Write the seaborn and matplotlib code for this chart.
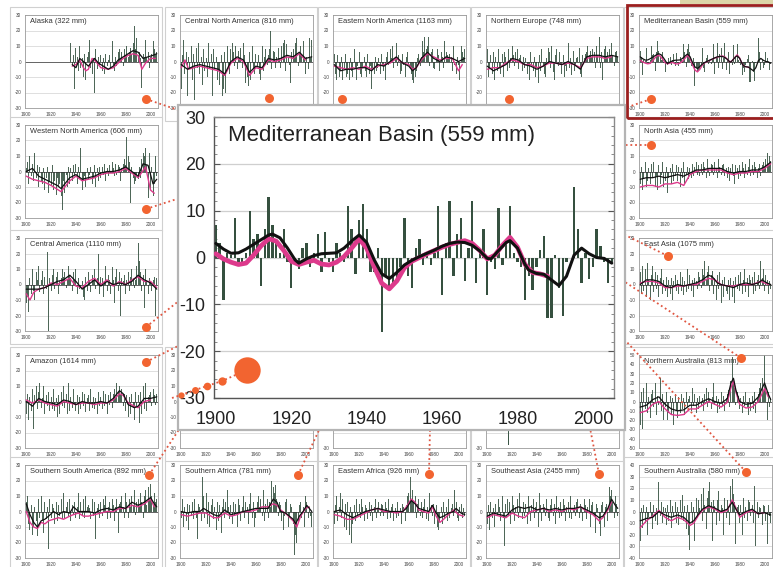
import numpy as np
import pandas as pd
import matplotlib
matplotlib.use("Agg")
import matplotlib.pyplot as plt
import seaborn as sns
from matplotlib.patches import Rectangle
from matplotlib.ticker import MultipleLocator

sns.set_theme(style="white")
plt.rcParams['font.family'] = ['Liberation Sans', 'DejaVu Sans']
plt.rcParams['axes.unicode_minus'] = False

# ----------------------------------------------------------------- data
DECADE_TICKS = [1900, 1920, 1940, 1960, 1980, 2000]

# Mediterranean Basin (main inset + small panel), annual anomalies 1900-2005
MED_BARS = [7, 3, -9, 1, 0.5, 8.5, -1, -1.5, 1, 10,
            4, 5, -6, 6, 13, 7, 3, 1, 6, -1,
            -6.5, -1, -2.5, 2, 3, -2, 1, 5, -3, 5.5,
            -1, -3, 3, 1, -1, 11, 6, -3.5, 8, 11.5,
            6, -3, -3, 2, -16, -4, -6, -6, -5, -2,
            8.5, -4, -6.5, 2, 4, -1.5, 1, -1.5, 1, 11,
            -8, 3, 12, -4, 5, 8.5, -5, 2, 12, -5.5,
            1, 6, -8, -1, -2.5, 10.5, -1.5, 3, 11, 1,
            -1, -2, -9, -4, -7, -2, 1.5, 4.5, -13, -13,
            0.5, -6.5, -12.5, -1, 0, 15, 6, -5.5, 1, -4.5,
            -2, 6, 2.5, -1, -5.5, -1]
MED_BLACK = [(1900, 3.0), (1902, 1.8), (1904, 0.9), (1906, 1.0), (1908, 1.8), (1910, 2.8),
             (1912, 3.8), (1914, 4.8), (1915, 5.0), (1917, 4.2), (1919, 2.0), (1921, -0.5),
             (1922, -1.2), (1924, -0.3), (1926, 0.4), (1928, 0.8), (1930, 0.9), (1932, 1.0),
             (1934, 2.0), (1936, 3.5), (1938, 4.8), (1940, 3.2), (1942, -0.5), (1944, -3.5),
             (1946, -4.5), (1948, -3.2), (1950, -1.6), (1952, -0.6), (1954, 0.2), (1956, 0.9),
             (1958, 1.6), (1960, 2.4), (1962, 3.0), (1964, 3.3), (1966, 3.2), (1968, 2.6),
             (1970, 1.4), (1972, -0.2), (1973, -0.3), (1975, 1.5), (1977, 3.2), (1978, 3.6),
             (1980, 2.0), (1982, -1.5), (1983, -2.7), (1985, -3.4), (1987, -3.6), (1989, -4.8),
             (1991, -6.0), (1993, -4.0), (1995, 0.5), (1997, 2.0), (1999, 0.8), (2001, 0.0),
             (2003, -0.2), (2005, -1.2)]
MED_PINK = [(1900, 0.8), (1902, -0.3), (1904, -1.0), (1906, -1.5), (1908, -1.2), (1910, 0.5),
            (1912, 2.5), (1914, 4.0), (1916, 3.5), (1918, 1.5), (1920, -0.8), (1922, -1.5),
            (1924, -1.0), (1926, -0.6), (1928, -1.4), (1930, -1.6), (1932, -1.0), (1934, 0.2),
            (1936, 2.0), (1938, 4.0), (1940, 2.0), (1942, -2.0), (1944, -5.5), (1946, -6.7),
            (1948, -5.0), (1950, -2.2), (1952, -0.8), (1954, 0.0), (1956, 0.8), (1958, 1.5),
            (1960, 2.2), (1962, 2.8), (1964, 3.2), (1966, 3.6), (1968, 3.0), (1970, 1.5),
            (1972, -0.3), (1974, 0.5), (1976, 2.6), (1978, 4.3), (1980, 2.2), (1982, -1.5),
            (1984, -3.2), (1986, -3.5), (1988, -4.0)]

ALASKA_START = 1936
ALASKA_BARS = [12, -3, 4, -18, 9, 3, -6, 10, -4, 2,
               -10, 5, -12, 3, 6, 14, -4, -8, 2, -20,
               8, -5, 3, -2, 4, -6, 2, -8, 5, -3,
               1, 4, -4, 13, -2, -6, 3, -3, 6, 8,
               2, 6, -3, 8, 4, 10, 3, 6, 9, 5,
               12, 23, 8, 15, 4, 6, 2, -17, 5, 3,
               14, 2, 6, -4, 3, 5, 13, 8, 4, 6]
ALASKA_BLACK = [(1937, -2), (1940, -4), (1943, 2), (1946, 0), (1950, -3), (1955, 2), (1958, -1),
                (1962, -3), (1966, -5), (1970, -3), (1974, 1), (1978, 3), (1982, 5), (1986, 7),
                (1990, 6), (1994, 2), (1998, 3), (2002, 4), (2005, 5)]
ALASKA_PINK = [(1937, -3), (1940, -2), (1943, 1), (1946, -4), (1948, -6), (1950, -5), (1953, 2),
               (1956, 0), (1960, -4), (1966, -5), (1970, -4), (1974, -1), (1978, 2), (1982, 4),
               (1986, 5), (1990, 4), (1993, -5), (1996, -1), (2000, 2), (2004, 2)]

CNA_BARS = [-18, 4, 14, -8, 6, -22, 3, -5, 10, -12,
            5, -25, 9, -4, 12, -8, 3, -15, 8, -6,
            2, -10, 12, -4, 5, -22, 8, -5, 3, -12,
            -6, -15, 4, -22, -18, 6, -20, 10, -5, -8,
            8, 12, 6, -3, 10, -5, 7, 2, 9, -4,
            12, 4, -14, -10, -16, 6, -12, 10, -4, -8,
            5, -3, 4, -8, -12, 10, -6, 3, 8, -2,
            4, 8, 20, -5, 7, 6, -4, 3, 9, 2,
            -4, 10, 12, 14, -6, 11, 3, -2, -14, 6,
            8, 3, 12, 15, -3, 6, 10, 4, 13, 2,
            -8, 3, -5, 15, 2, 14]
CNA_BLACK = [(1900, -2), (1905, -5), (1910, -3), (1915, -2), (1920, -3), (1925, -4), (1930, -5),
             (1935, -8), (1940, 0), (1945, 3), (1950, 1), (1955, -7), (1960, -3), (1965, -4),
             (1970, 2), (1975, 1), (1980, 2), (1985, 4), (1990, 3), (1995, 6), (2000, 2), (2005, 3)]
CNA_PINK = [(1900, -4), (1903, 1), (1906, -5), (1910, -4), (1915, -3), (1920, -4), (1925, -5),
            (1930, -6), (1935, -9), (1940, -1), (1945, 2), (1950, 0), (1955, -9), (1960, -4),
            (1965, -5), (1970, 1), (1975, 0), (1980, 1), (1985, 3), (1990, 2), (1995, 5), (2000, 1)]

ENA_BARS = [5, -8, -12, 4, -10, -6, 3, -12, -4, 5,
            -10, -8, -12, 2, -6, -10, 8, -4, -12, -3,
            6, -8, -10, -4, 3, -6, -10, 5, -8, -3,
            -18, -5, -8, 3, -6, -4, 2, -8, 5, -3,
            -6, -12, 3, 6, -2, 8, 2, 10, -4, 3,
            12, -3, 4, -8, -6, 5, -2, -10, 3, 6,
            -2, -4, -8, -12, -14, -10, -6, 2, 5, -3,
            3, 13, 6, 16, 8, 10, 16, -3, 6, 8,
            -4, -5, 2, 8, 4, -6, 6, 3, -4, 13,
            6, 4, 2, 5, 3, -6, 10, -2, -8, 3,
            -2, -12, 10, 6, 3, 8]
ENA_BLACK = [(1900, -2), (1905, -6), (1910, -5), (1915, -5), (1920, -4), (1925, -4), (1930, -6),
             (1935, -2), (1940, -3), (1945, 0), (1950, 3), (1955, -1), (1960, -3), (1963, -6),
             (1966, -4), (1970, 2), (1975, 6), (1980, 2), (1985, 0), (1990, 3), (1995, 2),
             (2000, 0), (2005, 2)]
ENA_PINK = [(1900, -3), (1905, -4), (1910, -5), (1915, -4), (1920, -5), (1925, -3), (1930, -5),
            (1935, -3), (1940, -2), (1945, -1), (1950, 2), (1955, -1), (1960, -2), (1963, -5),
            (1966, -4), (1970, 1), (1975, 5), (1980, 3), (1985, 1), (1990, 2), (1995, 2),
            (2000, -6), (2003, -2)]

NEU_BARS = [8, -10, -5, 4, -8, 6, -12, 3, -6, 8,
            -4, -8, 5, -10, 6, 3, -6, 8, -4, 2,
            10, 4, -3, 6, 8, -5, 2, 4, -6, 3,
            -4, 2, -8, -3, -12, 6, -2, -6, 3, -10,
            -4, -14, 4, -6, 8, -3, -8, -10, 2, 9,
            6, -4, 10, -7, -12, 4, 8, -3, 6, -2,
            -8, 4, -10, -3, -6, 12, -4, 2, -9, 7,
            -6, -3, 2, 3, 9, -8, -10, 4, 2, 5,
            6, 10, 4, 7, 3, 8, 6, -4, 10, 4,
            16, -4, 6, -12, 8, 10, 3, 6, 8, 4,
            12, 4, -3, 6, 7, 3]
NEU_BLACK = [(1900, -3), (1905, -6), (1910, -4), (1915, -2), (1920, 2), (1925, 1), (1930, -2),
             (1935, -3), (1940, -5), (1945, -3), (1950, 0), (1955, -1), (1960, -2), (1965, 0),
             (1970, -2), (1975, -5), (1980, 3), (1985, 4), (1990, 4), (1995, 3), (2000, 4),
             (2005, 3)]
NEU_PINK = [(1900, -5), (1905, -4), (1910, -4), (1915, -1), (1920, 1), (1925, 0), (1930, -2),
            (1935, -2), (1940, -4), (1945, -3), (1950, -1), (1955, -1), (1960, -2), (1965, -1),
            (1970, -2), (1975, -4), (1980, 2), (1985, 3), (1990, 3), (1995, 2), (2000, 3)]

WNA_BARS = [2, 6, -8, 10, -3, 5, -6, 12, -4, 4,
            -10, 3, -6, -8, 2, -12, -4, 3, -14, -6,
            -9, 4, -12, -6, -15, -4, -10, -8, -16, -25,
            -6, -14, -2, -10, 3, -8, 2, -6, 4, -3,
            5, -8, 3, -4, 15, -12, -6, -3, -10, 2,
            -5, -2, 3, -8, -4, 4, -10, 2, -6, 3,
            -4, 3, -2, 5, -6, 2, -3, 4, -1, 6,
            2, -3, 5, -2, 4, 3, -6, 2, 5, 8,
            4, 22, 10, 6, -20, 3, -4, -8, -6, -2,
            -5, 3, -4, 8, 12, 10, 15, 4, -17, 12,
            -12, 3, -16, -8, 10, -3]
WNA_BLACK = [(1900, 0), (1905, 2), (1910, -3), (1915, -5), (1920, -7), (1925, -9), (1928, -11),
             (1932, -7), (1935, -4), (1940, -2), (1945, -5), (1950, -4), (1955, -3), (1960, -1),
             (1965, 0), (1970, 0), (1975, 1), (1980, 3), (1985, 0), (1990, -3), (1994, 5),
             (1998, 4), (2002, -8), (2005, -5)]
WNA_PINK = [(1900, -3), (1905, -5), (1910, -6), (1915, -7), (1920, -9), (1928, -13), (1932, -9),
            (1935, -6), (1940, -3), (1945, -6), (1950, -5), (1955, -4), (1960, -2), (1965, -1),
            (1970, -1), (1975, 0), (1980, 2), (1985, -1), (1990, -4), (1996, 3), (2000, -12),
            (2003, -14)]

CAM_BARS = [-12, -8, -18, 4, -6, 10, -4, -10, 8, 3,
            12, -5, 3, 9, -6, 5, -3, 21, -30, 4,
            -4, 6, 10, -3, 5, 8, -6, 2, 4, 10,
            5, 8, -2, 3, 12, 6, 4, -4, 8, 3,
            10, -6, 4, -3, -2, 2, -8, -10, 5, -4,
            8, 3, -5, 6, 2, 10, -3, 4, 20, -6,
            5, 4, -8, 2, 12, -4, 6, 3, -6, 11,
            3, -12, 5, 10, -4, 8, -20, 4, 2, 6,
            -6, 3, 8, -4, 5, 10, 4, -2, 3, 12,
            27, 15, 8, -4, 6, -15, 10, 3, -6, 4,
            2, -4, 3, 5, -20, 4]
CAM_BLACK = [(1900, -3), (1905, -3), (1910, -3), (1915, -2), (1920, 0), (1925, 2), (1930, 3),
             (1935, 6), (1940, 2), (1945, -3), (1950, 0), (1955, 3), (1960, -1), (1965, 2),
             (1970, 0), (1975, 1), (1980, 0), (1985, 2), (1990, 6), (1995, 3), (2000, 1),
             (2005, -3)]
CAM_PINK = [(1900, -6), (1903, -10), (1906, -5), (1910, -3), (1915, -2), (1920, 1), (1925, 0),
            (1930, 2), (1935, 4), (1940, -1), (1945, -2), (1950, 2), (1955, 4), (1960, 0),
            (1965, 3), (1970, -1), (1975, 2), (1980, 0), (1985, 3), (1990, 5), (1995, 2),
            (2000, 2), (2005, -2)]

AMZ_BARS = [-8, 5, -12, 3, -6, 8, -18, 4, 10, -5,
            6, 12, -4, 2, 10, -8, 4, -3, 6, -6,
            3, -5, 8, -6, 2, -10, 4, -8, 6, -3,
            10, -4, 5, -8, 12, -6, 3, -4, 8, -2,
            -6, 4, -8, 3, -5, 6, -3, 5, -7, 2,
            4, -6, 8, -4, 3, -5, 2, -8, 6, -3,
            3, -5, 7, -3, 5, -8, 4, -2, 6, -4,
            5, 8, 3, 12, 6, 10, 4, 8, -3, 5,
            -6, 4, -10, 3, -8, 5, -4, -12, 6, -3,
            4, -14, 6, -8, 10, -5, 12, -6, 3, 4,
            6, -3, 8, 4, -2, 5]
AMZ_BLACK = [(1900, 0), (1905, -3), (1910, 2), (1915, 0), (1920, -1), (1925, -2), (1930, 1),
             (1935, 0), (1940, -2), (1945, 0), (1950, -1), (1955, -1), (1960, 0), (1965, -1),
             (1970, 2), (1975, 7), (1978, 5), (1982, -2), (1987, -4), (1990, -3), (1995, 2),
             (2000, 2), (2005, 3)]
AMZ_PINK = [(1900, 1), (1905, -1), (1910, 1), (1915, -1), (1920, -2), (1925, -3), (1930, 0),
            (1935, -1), (1940, -2), (1945, -1), (1950, -1), (1955, -2), (1960, -1), (1965, -1),
            (1970, 1), (1975, 5), (1978, 4), (1982, -1), (1987, -3), (1990, -4), (1995, 0),
            (2000, 1)]

NAS_BARS = [-8, 3, -12, -4, 6, -10, -6, 2, -8, 5,
            -4, 6, -10, -3, -12, 4, -8, -2, 6, -10,
            -6, 3, -14, -4, 2, -8, 5, -6, -3, 4,
            -6, 3, -10, 2, -4, 6, -8, -2, 3, -5,
            2, -4, 5, -3, 3, 6, -2, 4, -3, 5,
            -2, 6, 3, -4, 8, 2, -3, 5, 4, -2,
            6, 2, -4, 8, 3, -2, 4, 5, -3, 2,
            -4, 3, -6, 2, 5, -3, -8, 4, 2, -5,
            4, -3, 6, 2, -4, 5, -2, 3, 8, -3,
            4, -2, 6, 3, -4, 2, 5, -3, 4, 6,
            3, 8, 12, 5, 10, 7]
NAS_BLACK = [(1900, -5), (1905, -4), (1910, -4), (1915, -3), (1920, -4), (1925, -3), (1930, -2),
             (1935, -3), (1940, -1), (1945, 1), (1950, 1), (1955, 2), (1960, 2), (1965, 2),
             (1970, 0), (1975, -1), (1980, 0), (1985, 0), (1990, 1), (1995, 1), (2000, 3),
             (2005, 6)]
NAS_PINK = [(1900, -10), (1905, -9), (1910, -9), (1915, -10), (1920, -8), (1925, -8), (1930, -7),
            (1935, -9), (1940, -2), (1945, 0), (1950, 1), (1955, 1), (1960, 1), (1965, 1),
            (1970, -1), (1975, -2), (1980, -1), (1985, -1), (1990, 0), (1995, 0), (2000, 2),
            (2005, 5)]

EAS_BARS = [8, -6, 12, -4, 10, -8, 14, 3, -10, 6,
            12, -5, 8, -3, 6, -8, 4, 10, -6, 3,
            -4, 5, -8, 3, -6, 4, -10, 2, 6, -4,
            3, -6, 8, -4, 5, -7, 2, -5, 10, -3,
            6, -4, 3, -8, 4, 2, -3, 8, 5, -2,
            10, 6, 15, 3, 8, 12, -4, 6, 9, -6,
            4, -10, 6, -3, 8, -12, 3, -8, 5, -4,
            -6, 3, -10, 4, -8, 2, -12, 5, -3, 6,
            -4, 8, -6, 3, 10, -5, 4, -8, 6, 3,
            5, -6, 8, -4, 3, 6, -3, 15, 4, 10,
            -4, 6, 3, -6, 2, -3]
EAS_BLACK = [(1900, 0), (1905, 3), (1910, 3), (1915, 2), (1920, -1), (1925, -2), (1930, 0),
             (1935, -1), (1940, 0), (1945, 1), (1950, 3), (1955, 6), (1958, 5), (1962, 1),
             (1965, 0), (1970, -1), (1975, -2), (1980, 0), (1985, 1), (1990, 0), (1995, 1),
             (1998, 3), (2002, 1), (2005, 0)]
EAS_PINK = [(1900, 1), (1905, 2), (1910, 2), (1915, 1), (1920, -2), (1925, -2), (1930, -1),
            (1935, -1), (1940, 0), (1945, 0), (1950, 2), (1955, 4), (1960, 3), (1965, 0),
            (1970, -1), (1975, -1), (1980, 0), (1985, 0), (1990, 0), (1997, 2), (2003, 0)]

NAU_BARS = [-25, 10, -30, 15, -8, 20, -12, 5, -18, 8,
            12, -6, 20, -15, 6, -4, 25, -10, 8, -20,
            -6, 10, -20, -12, 6, -15, 4, -25, 8, -10,
            -18, 5, -12, 8, -8, 4, -15, 10, -6, 3,
            6, -10, 15, -5, 8, -12, 4, -8, 6, -4,
            4, -10, 8, 15, -6, 10, 3, -8, 5, 20,
            -4, 6, -12, 3, -8, 10, -5, 6, -10, 4,
            8, 12, -6, 22, 48, 20, 15, -4, 10, 6,
            -8, 4, -12, 6, -5, 10, -6, -14, 4, -10,
            6, -8, 10, -12, 4, 8, 15, 20, 25, 12,
            50, 18, -20, 10, -6, 4]
NAU_BLACK = [(1900, -6), (1905, -4), (1910, 2), (1915, 5), (1920, -3), (1925, -8), (1930, -10),
             (1935, -9), (1940, -4), (1945, -4), (1950, 0), (1955, 3), (1960, 0), (1965, -2),
             (1970, 3), (1973, 20), (1975, 25), (1977, 12), (1980, 0), (1985, -3), (1990, -2),
             (1995, 5), (2000, 20), (2003, 8), (2005, 2)]
NAU_PINK = [(1900, -12), (1905, -10), (1910, -3), (1915, 0), (1920, -8), (1925, -14), (1930, -15),
            (1935, -14), (1940, -8), (1945, -8), (1950, -4), (1955, 0), (1960, -3), (1965, -6),
            (1970, -1), (1973, 15), (1975, 22), (1977, 10), (1980, -3), (1985, -7), (1990, -6),
            (1995, 0), (2000, 14), (2003, 5)]

SSA_BARS = [6, 10, -8, -12, 4, -15, -10, 3, -6, -16,
            8, -4, 10, -6, -14, 6, -5, 3, -24, 8,
            -4, 5, 2, -8, 6, -6, 4, -3, 8, -5,
            12, -4, 3, 6, -3, 8, -6, 4, -2, 6,
            -4, 3, 12, -5, 6, -3, 8, -4, 10, 3,
            4, 2, -5, 8, -3, 6, -18, 2, 5, -4,
            6, -3, 8, 4, 10, -5, 3, 6, -4, 8,
            4, -6, 3, 8, -14, 5, 6, 10, 3, -4,
            12, 6, -4, 8, 3, 10, 4, 14, -2, 6,
            8, 3, 12, 6, -4, 10, 14, 4, 16, 8,
            18, 10, 4, 12, 6, 8]
SSA_BLACK = [(1900, 5), (1903, -2), (1906, -7), (1909, -10), (1912, -6), (1915, -5), (1918, -3),
             (1922, 0), (1926, -2), (1930, 0), (1935, -1), (1938, 3), (1942, 0), (1946, 0),
             (1950, 0), (1955, -1), (1960, 1), (1965, 2), (1970, 1), (1975, 3), (1980, 2),
             (1985, 6), (1990, 4), (1995, 6), (2000, 9), (2003, 5), (2005, 3)]
SSA_PINK = [(1900, 0), (1903, -7), (1906, -10), (1909, -11), (1912, -7), (1915, -8), (1918, -6),
            (1922, -5), (1926, -4), (1930, -5), (1935, -3), (1938, -2), (1942, -1), (1946, -3),
            (1950, -3), (1955, -2), (1960, -1), (1965, 0), (1970, 0), (1975, 2), (1980, 2),
            (1985, 4), (1990, 3), (1995, 5), (2000, 8), (2003, 3)]

SAF_BARS = [-4, 8, -10, 3, -6, 5, -12, 4, -3, 6,
            -5, 8, -4, -18, 5, 3, -6, 22, 10, -4,
            12, -8, 6, -10, 4, 8, -5, 3, -12, 6,
            -6, 4, -14, 3, 8, -4, 6, 14, 3, -5,
            4, -8, 6, -3, 5, -10, 8, 4, -6, 3,
            10, -4, 6, 3, -8, 5, 12, -4, 6, -10,
            -4, 6, 10, 3, 8, -3, 14, -6, 5, 8,
            -4, 6, 3, 20, 16, 12, 17, 8, -3, 6,
            4, -6, -12, -3, 6, 8, -10, -4, 5, 3,
            -8, -28, -15, -20, -6, 4, 6, -4, 3, -10,
            10, 6, -4, 3, -3, -10]
SAF_BLACK = [(1900, 0), (1905, -1), (1910, 0), (1915, 0), (1918, 2), (1922, 0), (1926, -2),
             (1930, -3), (1935, 1), (1940, -2), (1945, -1), (1950, 0), (1955, 1), (1960, 2),
             (1965, 2), (1970, 2), (1974, 8), (1977, 6), (1980, 0), (1984, -1), (1987, -3),
             (1990, -5), (1992, -8), (1995, -3), (1998, 0), (2001, 4), (2005, 0)]
SAF_PINK = [(1900, -2), (1905, -3), (1910, -2), (1915, -1), (1920, -1), (1926, -4), (1930, -4),
            (1935, -1), (1940, -3), (1945, -2), (1950, 0), (1955, 0), (1960, 1), (1965, 3),
            (1970, 3), (1974, 5), (1977, 4), (1980, 1), (1985, -2), (1990, -6), (1993, -10),
            (1996, -3), (2000, 2), (2003, 3)]

EAF_BARS = [-8, 4, 10, -6, 3, 12, -4, 8, -10, 5,
            -12, 6, -15, 3, -20, -8, 4, -6, 8, -3,
            5, -4, 8, 3, -6, 4, 2, -5, 6, -3,
            4, -6, 3, 8, -4, 2, 6, -3, 5, 4,
            -3, 6, 2, -5, 8, -4, 3, 5, -6, 2,
            -4, 6, -3, 2, -8, 5, 3, -6, 4, 10,
            12, 22, 8, 14, 6, 10, -4, 5, 8, -3,
            6, -4, 3, 8, -5, 3, -6, 12, 4, -3,
            5, -8, 4, -10, -12, -6, 3, -8, 6, -4,
            3, -6, 8, -4, 2, 5, -3, 14, 6, -4,
            -6, 3, 5, -4, 2, -3]
EAF_BLACK = [(1900, 0), (1905, 1), (1910, -2), (1915, -4), (1920, -2), (1925, 0), (1930, 1),
             (1935, 2), (1940, 1), (1945, 0), (1950, 0), (1955, 0), (1958, 2), (1962, 7),
             (1965, 5), (1968, 2), (1972, 1), (1976, 0), (1979, 4), (1982, -1), (1985, -4),
             (1988, -3), (1992, -1), (1996, 0), (1998, 2), (2002, -1), (2005, -2)]
EAF_PINK = [(1900, -2), (1905, -3), (1910, -5), (1915, -5), (1920, -3), (1925, -1), (1930, 1),
            (1935, 2), (1940, 0), (1945, 0), (1950, -1), (1955, 0), (1958, 3), (1962, 8),
            (1965, 6), (1968, 1), (1972, 0), (1976, -1), (1979, 3), (1982, -3), (1985, -7),
            (1988, -5), (1992, -2), (1996, 1), (2000, -2), (2004, -3)]

SEA_BARS = [-8, 4, -12, 6, -4, 2, -10, 5, -3, 8,
            3, -6, 10, -4, -22, 5, 8, -3, 6, -8,
            10, 4, -6, 3, 8, -4, 12, 2, -5, 6,
            -3, 5, -8, 10, 3, -6, 4, 8, -4, 3,
            6, -10, 12, 4, -6, 5, 3, -3, 8, -4,
            -6, 4, 8, -3, 5, -8, 10, 3, -4, 6,
            -3, 8, 4, -6, 3, 6, -4, 10, -5, 2,
            4, -3, 6, 8, -4, 5, 3, -6, 8, 4,
            -5, 3, 8, -10, 4, 6, -3, -14, 5, 2,
            -8, -16, 4, 6, -10, 3, 5, -6, 16, 10,
            14, 6, -4, 10, 5, -3]
SEA_BLACK = [(1900, -3), (1905, -1), (1910, -2), (1915, -3), (1920, 1), (1925, 3), (1930, 2),
             (1935, 3), (1940, 1), (1945, 2), (1950, 1), (1955, 2), (1960, 1), (1965, 2),
             (1970, 2), (1975, 3), (1980, 1), (1985, -1), (1990, -4), (1993, -3), (1997, 2),
             (2000, 8), (2003, 4), (2005, 2)]
SEA_PINK = [(1900, -4), (1905, -2), (1910, -3), (1915, -4), (1920, -1), (1925, -3), (1930, -4),
            (1935, 0), (1940, 1), (1945, 2), (1950, 0), (1955, 1), (1960, 0), (1965, 2),
            (1970, 1), (1975, 3), (1980, 0), (1985, -2), (1990, -6), (1993, -4), (1997, 1),
            (2000, 6)]

SAU_BARS = [-25, 3, -14, 6, -10, 4, -20, -5, 8, -6,
            -15, 6, -8, 3, -12, 25, -4, 8, -10, 4,
            3, -12, 6, -8, 10, -14, 5, -4, 8, -10,
            4, -12, 10, -6, 14, -8, 5, -15, 6, -20,
            -33, 8, -10, 4, -25, 12, -6, 10, 3, 15,
            -8, 20, 6, -15, 12, 18, 25, 8, -25, 10,
            5, -12, 10, 18, -8, 6, 3, -20, 12, -6,
            10, 5, -12, 22, 28, 15, 8, -28, 4, 6,
            -10, 6, -20, 12, -6, 4, -8, 10, 8, -4,
            6, -10, 22, -30, 8, -6, 4, 3, -12, 6,
            5, -8, -28, 6, -4, -10]
SAU_BLACK = [(1900, -8), (1905, -6), (1910, -5), (1915, 0), (1920, -3), (1925, -5), (1930, -3),
             (1935, -5), (1940, -10), (1943, -8), (1947, -2), (1950, 2), (1955, 5), (1960, 3),
             (1965, 0), (1970, 2), (1974, 8), (1977, 2), (1980, -3), (1985, 0), (1990, 2),
             (1995, -2), (2000, -1), (2005, -3)]
SAU_PINK = [(1900, -14), (1905, -8), (1910, -4), (1915, 1), (1920, -5), (1925, -8), (1930, -5),
            (1935, -7), (1940, -12), (1943, -10), (1947, -3), (1950, 1), (1955, 4), (1960, 2),
            (1965, -1), (1970, 1), (1974, 10), (1977, 3), (1980, -5), (1985, -1), (1990, 1),
            (1995, -2), (2000, -1)]

# panel behind the inset whose bottom strip shows a single long bar
HIDDEN_START = 1915
HIDDEN_BARS = [4, -6, -28, 3]

# (title, first year, bars, black curve, pink curve, y limit, column, row)
PANELS = [
    ("Alaska (322 mm)", ALASKA_START, ALASKA_BARS, ALASKA_BLACK, ALASKA_PINK, 30, 0, 0),
    ("Central North America (816 mm)", 1900, CNA_BARS, CNA_BLACK, CNA_PINK, 30, 1, 0),
    ("Eastern North America (1163 mm)", 1900, ENA_BARS, ENA_BLACK, ENA_PINK, 30, 2, 0),
    ("Northern Europe (748 mm)", 1900, NEU_BARS, NEU_BLACK, NEU_PINK, 30, 3, 0),
    ("Mediterranean Basin (559 mm)", 1900, MED_BARS, MED_BLACK, MED_PINK, 30, 4, 0),
    ("Western North America (606 mm)", 1900, WNA_BARS, WNA_BLACK, WNA_PINK, 30, 0, 1),
    ("North Asia (455 mm)", 1900, NAS_BARS, NAS_BLACK, NAS_PINK, 30, 4, 1),
    ("Central America (1110 mm)", 1900, CAM_BARS, CAM_BLACK, CAM_PINK, 30, 0, 2),
    ("East Asia (1075 mm)", 1900, EAS_BARS, EAS_BLACK, EAS_PINK, 30, 4, 2),
    ("Amazon (1614 mm)", 1900, AMZ_BARS, AMZ_BLACK, AMZ_PINK, 30, 0, 3),
    ("Northern Australia (813 mm)", 1900, NAU_BARS, NAU_BLACK, NAU_PINK, 50, 4, 3),
    ("Southern South America (892 mm)", 1900, SSA_BARS, SSA_BLACK, SSA_PINK, 30, 0, 4),
    ("Southern Africa (781 mm)", 1900, SAF_BARS, SAF_BLACK, SAF_PINK, 30, 1, 4),
    ("Eastern Africa (926 mm)", 1900, EAF_BARS, EAF_BLACK, EAF_PINK, 30, 2, 4),
    ("Southeast Asia (2455 mm)", 1900, SEA_BARS, SEA_BLACK, SEA_PINK, 30, 3, 4),
    ("Southern Australia (580 mm)", 1900, SAU_BARS, SAU_BLACK, SAU_PINK, 40, 4, 4),
]

# ---------------------------------------------------------------- layout
W, H = 773, 567
COL_LEFT = [25, 180, 333, 486, 639]
ROW_TOP = [15, 125, 238, 355, 465]
PW, PH = 133, 93
BAR_C = "#3b5646"
PINK_C = "#dd3a8c"
DOT_C = "#f26430"
LINE_C = "#e05540"


def rect(l, t, w, h):
    return [l / W, 1 - (t + h) / H, w / W, h / H]


def bars_df(start, vals):
    return pd.DataFrame({"year": np.arange(start, start + len(vals)), "value": vals})


def curve_df(pairs):
    return pd.DataFrame(pairs, columns=["year", "value"])


def style_small(ax, ylim, xlabels=True, only_bottom_ylabel=False):
    ax.set_xlim(1899, 2006)
    ax.set_ylim(-ylim, ylim)
    ax.set_xticks(DECADE_TICKS)
    yt = np.arange(-ylim, ylim + 1, 10)
    ax.set_yticks(yt)
    if only_bottom_ylabel:
        ax.set_yticklabels([str(v) if v == -ylim else "" for v in yt])
    if not xlabels:
        ax.set_xticklabels([])
    ax.xaxis.set_minor_locator(MultipleLocator(10))
    ax.yaxis.set_minor_locator(MultipleLocator(5))
    ax.tick_params(axis="both", which="major", labelsize=3.4, length=1.5, width=0.4,
                   pad=1.2, colors="#555", labelcolor="#444", direction="out")
    ax.tick_params(axis="both", which="minor", length=1, width=0.3, colors="#777")
    ax.grid(axis="y", color="#d2d2d2", lw=0.5)
    ax.set_axisbelow(True)
    for s in ax.spines.values():
        s.set_color("#9a9a9a")
        s.set_linewidth(0.6)
    ax.set_xlabel("")
    ax.set_ylabel("")


def panel_box(l, t):
    fig.add_artist(Rectangle(((l - 15) / W, 1 - (t + PH + 13) / H), (PW + 19) / W,
                             (PH + 21) / H, transform=fig.transFigure, facecolor="white",
                             edgecolor="#d0d0d0", lw=0.8, zorder=0.5))


fig = plt.figure(figsize=(W / 100, H / 100), dpi=100, facecolor="white")

# small panels
for title, start, bars, black, pink, ylim, c, r in PANELS:
    l, t = COL_LEFT[c], ROW_TOP[r]
    panel_box(l, t)
    ax = fig.add_axes(rect(l, t, PW, PH), zorder=1)
    sns.barplot(data=bars_df(start, bars), x="year", y="value", native_scale=True,
                color=BAR_C, saturation=1, width=0.8, errorbar=None, linewidth=0,
                ax=ax, zorder=2, alpha=0.9)
    ax.axhline(0, color="#333", lw=0.5, zorder=2.5)
    sns.lineplot(data=curve_df(pink), x="year", y="value", color=PINK_C, lw=1.0,
                 ax=ax, zorder=3)
    sns.lineplot(data=curve_df(black), x="year", y="value", color="#111", lw=0.9,
                 ax=ax, zorder=4)
    hidden_x = (r == 0 and 1 <= c <= 3)
    style_small(ax, ylim, xlabels=not hidden_x)
    ax.text(0.04, 0.93, title, transform=ax.transAxes, fontsize=5.4, color="#333",
            va="center", ha="left", zorder=5)

# panels hidden behind the inset (only their bottom strip shows)
for c in (1, 2, 3):
    l, t = COL_LEFT[c], ROW_TOP[3]
    panel_box(l, t)
    ax = fig.add_axes(rect(l, t, PW, PH), zorder=1)
    if c == 3:
        sns.barplot(data=bars_df(HIDDEN_START, HIDDEN_BARS), x="year", y="value",
                    native_scale=True, color=BAR_C, saturation=1, width=0.8,
                    errorbar=None, linewidth=0, ax=ax, zorder=2)
    style_small(ax, 30, only_bottom_ylabel=(c != 1))

# highlight frame round the Mediterranean panel and top-right strip
fig.add_artist(Rectangle((627 / W, 1 - 118 / H), 150 / W, 113 / H, transform=fig.transFigure,
                         facecolor="none", edgecolor="#9b1f1f", lw=2.0, zorder=4))
fig.add_artist(Rectangle((680 / W, 1 - 4 / H), 93 / W, 4 / H, transform=fig.transFigure,
                         facecolor="#dcd6a8", edgecolor="none", zorder=4))

# overlay for connectors / dots under the inset
low = fig.add_axes([0, 0, 1, 1], zorder=3)
low.set_xlim(0, W)
low.set_ylim(H, 0)
low.axis("off")
low.patch.set_alpha(0)
CONNECTORS = [((146, 99), (178, 110)), ((651, 99), (625, 108)), ((146, 209), (180, 198)),
              ((146, 327), (180, 300)), ((146, 362), (180, 345)), ((651, 145), (625, 145)),
              ((668, 256), (625, 235)), ((741, 358), (625, 282)), ((746, 472), (625, 340)),
              ((149, 475), (180, 428)), ((298, 475), (320, 428)), ((429, 474), (430, 428)),
              ((599, 474), (590, 428))]
for (x0, y0), (x1, y1) in CONNECTORS:
    low.plot([x0, x1], [y0, y1], ls=(0, (1, 1.6)), color=LINE_C, lw=1.3)
DOTS = [(146, 99), (269, 98), (342, 99), (509, 99), (651, 99), (146, 209), (146, 327),
        (146, 362), (651, 145), (668, 256), (741, 358), (149, 475), (298, 475), (429, 474),
        (599, 474), (746, 472)]
for x, y in DOTS:
    low.plot([x], [y], "o", ms=6.5, color=DOT_C, mec="none")

# inset frame
fig.add_artist(Rectangle((178 / W, 1 - 430 / H), 447 / W, 325 / H, transform=fig.transFigure,
                         facecolor="white", edgecolor="#b4b4b4", lw=1.6, zorder=5))

# main inset chart
ax = fig.add_axes(rect(214, 117, 400, 281), zorder=6)
sns.barplot(data=bars_df(1900, MED_BARS), x="year", y="value", native_scale=True,
            color="#35503f", saturation=1, width=0.62, errorbar=None, linewidth=0,
            ax=ax, zorder=2)
sns.lineplot(data=curve_df(MED_PINK), x="year", y="value", color=PINK_C, lw=3.4,
             ax=ax, zorder=3)
sns.lineplot(data=curve_df(MED_BLACK), x="year", y="value", color="#111", lw=2.2,
             ax=ax, zorder=4)
ax.set_xlim(1899.5, 2005.6)
ax.set_ylim(-30, 30)
ax.set_xticks(DECADE_TICKS)
ax.set_yticks(np.arange(-30, 31, 10))
ax.yaxis.set_minor_locator(MultipleLocator(2))
ax.xaxis.set_minor_locator(MultipleLocator(5))
ax.tick_params(axis="both", which="major", labelsize=13, length=4, width=0.8, colors="#555",
               labelcolor="#222", direction="in", right=True, left=True)
ax.tick_params(axis="x", which="major", pad=9)
ax.tick_params(axis="y", which="major", pad=6)
ax.tick_params(axis="both", which="minor", length=2.5, width=0.6, colors="#777",
               direction="in", right=True, left=True)
ax.grid(axis="y", color="#cfcfcf", lw=0.9)
ax.set_axisbelow(True)
for s in ax.spines.values():
    s.set_color("#8a8a8a")
    s.set_linewidth(1.0)
ax.spines["left"].set_color("#555")
ax.spines["bottom"].set_color("#555")
ax.set_xlabel("")
ax.set_ylabel("")
fig.text(228 / W, 1 - 135 / H, "Mediterranean Basin (559 mm)", fontsize=16, color="#222",
         ha="left", va="center", zorder=8)

# dots drawn on top of the inset (lower-left corner)
high = fig.add_axes([0, 0, 1, 1], zorder=7)
high.set_xlim(0, W)
high.set_ylim(H, 0)
high.axis("off")
high.patch.set_alpha(0)
INSET_TRAIL = [(172, 398), (181, 395), (195, 390), (207, 386), (222, 381), (240, 373)]
high.plot([p[0] for p in INSET_TRAIL], [p[1] for p in INSET_TRAIL], ls=(0, (1, 1.6)),
          color=LINE_C, lw=1.3)
for (x, y), ms in zip(INSET_TRAIL[1:5], [4.5, 5, 5.5, 6]):
    high.plot([x], [y], "o", ms=ms, color=DOT_C, mec="none")
high.plot([247], [370], "o", ms=19, color=DOT_C, mec="none")

fig.savefig("out.png", dpi=100, facecolor="white")
